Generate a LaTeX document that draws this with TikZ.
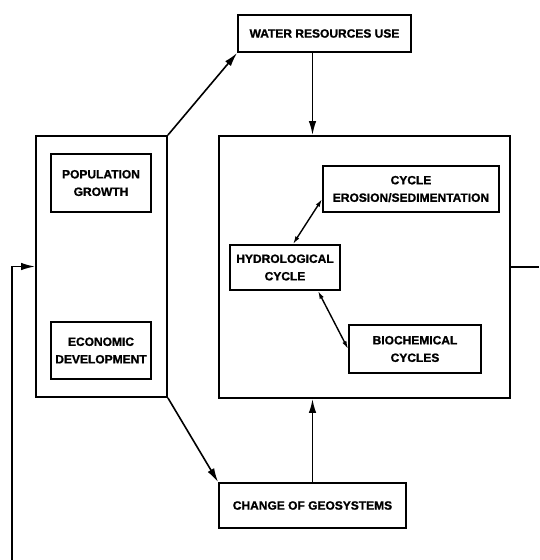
\documentclass[tikz,border=0pt]{standalone}
\usepackage{fontspec}
\setmainfont{Liberation Sans}[BoldFeatures={FakeBold=1.2}]
\usetikzlibrary{arrows.meta,calc}
\begin{document}
\begin{tikzpicture}[x=1pt,y=-1pt,
  box/.style={draw,line width=1.8pt,inner sep=0pt,align=center,
    font=\fontsize{12}{17.5}\selectfont\bfseries},
  conn/.style={line width=1.6pt,-{Latex[length=14pt,width=7.5pt]}},
  biconn/.style={line width=1.4pt,{Latex[length=8pt,width=4.5pt]}-{Latex[length=8pt,width=4.5pt]}}]
\useasboundingbox (0,0) rectangle (539,560);
\node[box,minimum width=173,minimum height=37] (water) at (324.5,33.5) {WATER RESOURCES USE};
\node[box,minimum width=131,minimum height=261] (left) at (101.5,266.5) {};
\node[box,minimum width=100,minimum height=58] (pop) at (101,183) {POPULATION\\GROWTH};
\node[box,minimum width=100,minimum height=57] (econ) at (101,350.5) {ECONOMIC\\DEVELOPMENT};
\node[box,minimum width=291,minimum height=262] (main) at (364.5,267) {};
\node[box,minimum width=176,minimum height=46] (eros) at (411,189) {CYCLE\\EROSION/SEDIMENTATION};
\node[box,minimum width=110,minimum height=45] (hydro) at (285,267.5) {HYDROLOGICAL\\CYCLE};
\node[box,minimum width=132,minimum height=48] (bio) at (415,349) {BIOCHEMICAL\\CYCLES};
\node[box,minimum width=187,minimum height=45] (change) at (312.5,505.5) {CHANGE OF GEOSYSTEMS};
\coordinate (fb) at (12,560);
\coordinate (out) at (539,267);
\draw[conn] (left.north east) -- (water.south west);
\draw[conn] (water.south -| change.north) -- (main.north -| change.north);
\draw[conn] (left.south east) -- (change.north west);
\draw[conn] (change.north) -- (main.south -| change.north);
\draw[biconn] ($(hydro.north)+(8,0)$) -- ($(eros.west)+(0,10)$);
\draw[biconn] ($(hydro.south)+(33,0)$) -- (bio.west);
\draw[line width=1.8pt] (main.east) -- (out);
\draw[conn] (fb) |- (left.west);
\end{tikzpicture}
\end{document}
